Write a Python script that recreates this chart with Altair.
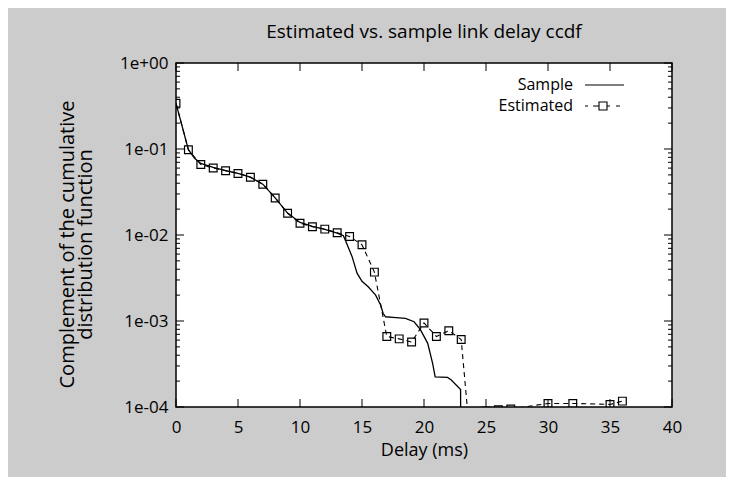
import altair as alt
import pandas as pd

# ---- data ----
sample_x = [0, 1, 1.5, 2, 3, 4, 5, 6, 7, 8, 9, 10, 11, 12, 13, 13.5, 13.7, 14.2,
            14.6, 15.0, 15.5, 16.1, 16.5, 16.7, 16.9, 17.5, 18.5, 19.2, 19.7, 20.3,
            20.7, 20.9, 21.9, 22.2, 22.95, 23.0]
sample_y = [0.34, 0.098, 0.078, 0.068, 0.061, 0.056, 0.052, 0.047, 0.039, 0.027,
            0.018, 0.014, 0.0126, 0.0116, 0.0105, 0.0098, 0.0084, 0.0056, 0.0036,
            0.0029, 0.0025, 0.0020, 0.00154, 0.00123, 0.00112, 0.0011, 0.00107,
            0.00098, 0.0008, 0.00055, 0.00032, 0.000224, 0.000221, 0.000206,
            0.00016, 0.000001]

est_x = [0, 1, 2, 3, 4, 5, 6, 7, 8, 9, 10, 11, 12, 13, 14, 15, 16, 17, 18, 19,
         20, 21, 22, 23, 24, 25, 26, 27, 30, 32, 35, 36]
est_y = [0.34, 0.098, 0.066, 0.060, 0.056, 0.052, 0.047, 0.039, 0.027, 0.0179,
         0.0137, 0.0125, 0.0117, 0.0106, 0.0096, 0.0077, 0.0037, 0.00066, 0.00062,
         0.00057, 0.00095, 0.00066, 0.00077, 0.00061, 0.000015, 0.00009,
         0.000093, 0.000095, 0.00011, 0.00011, 0.000107, 0.000117]

series_names = ["Sample", "Estimated"]
x_ticks = [0, 5, 10, 15, 20, 25, 30, 35, 40]
y_major = [1, 0.1, 0.01, 0.001, 0.0001]
y_minor = [m * 10.0 ** e for e in range(-4, 0) for m in range(2, 10)]

title_text = "Estimated vs. sample link delay ccdf"
x_title = "Delay (ms)"
y_title = ["Complement of the cumulative", "distribution function"]

# ---- tables ----
df_s = pd.DataFrame({"delay": sample_x, "ccdf": sample_y, "series": series_names[0]})
df_e = pd.DataFrame({"delay": est_x, "ccdf": est_y, "series": series_names[1]})
df_all = pd.concat([df_s, df_e], ignore_index=True)
df_xt = pd.DataFrame({"delay": x_ticks})
df_ymaj = pd.DataFrame({"ccdf": y_major})
df_ymin = pd.DataFrame({"ccdf": y_minor})

W, H = 496, 344
FONT = "Open Sans"

xs = alt.Scale(domain=[0, 40], nice=False, zero=False)
ys = alt.Scale(type="log", domain=[1e-4, 1], nice=False)

x_axis = alt.Axis(values=x_ticks, ticks=False, domain=False, grid=False,
                  labelFontSize=17, labelPadding=12, labelColor="black",
                  labelFont=FONT, labelFlush=False, labelOverlap=False,
                  title=x_title, titleFontSize=18,
                  titleFontWeight="normal", titleFont=FONT, titleColor="black",
                  titlePadding=6)
y_axis = alt.Axis(values=y_major, ticks=False, domain=False, grid=False,
                  labelFontSize=17, labelPadding=8, labelColor="black",
                  labelFont=FONT, labelFlush=False, labelOverlap=False,
                  labelExpr="datum.value >= 1 ? '1e+00' : '1e-0' + format(-log(datum.value)/LN10, '.0f')",
                  title=y_title, titleFontSize=20, titleFontWeight="normal",
                  titleFont=FONT, titleColor="black", titlePadding=24,
                  titleLineHeight=18, titleY=181)

X = alt.X("delay:Q", scale=xs, axis=x_axis)
Y = alt.Y("ccdf:Q", scale=ys, axis=y_axis)

sample_line = alt.Chart(df_s).mark_line(color="black", strokeWidth=1.3, clip=True).encode(
    x=X, y=Y)

est_line = alt.Chart(df_e).mark_line(color="black", strokeWidth=1.1,
                                     strokeDash=[5, 4], clip=True).encode(x=X, y=Y)

est_pts = alt.Chart(df_e).mark_point(shape="square", size=60, filled=False,
                                     color="black", strokeWidth=1.2, opacity=1,
                                     clip=True).encode(x=X, y=Y)

# legend (gnuplot style: label left, line sample right)
path_sample = "M-3.6,0H4.2"
path_est = "M-3.6,0H-3.0M-2.0,0H-0.8M-0.8,-0.8H0.8V0.8H-0.8ZM0.8,0H1.4M2.6,0H3.4"
legend_layer = alt.Chart(df_all).mark_point(filled=False, color="black", opacity=0,
                                            clip=True).encode(
    x=X, y=Y,
    shape=alt.Shape("series:N",
                    scale=alt.Scale(domain=series_names, range=[path_sample, path_est]),
                    legend=alt.Legend(title=None, orient="none", legendX=419, legendY=14,
                                      padding=0, labelAlign="right",
                                      labelOffset={"expr": "-38"},
                                      labelFontSize=16, labelFont=FONT, labelColor="black",
                                      symbolSize=100, symbolStrokeColor="black",
                                      symbolStrokeWidth=1.1, symbolFillColor="transparent",
                                      symbolOpacity=1, rowPadding=5, labelLimit=0)),
)

# inward ticks like gnuplot, on all four sides
def yrule(df, x0, x1):
    return alt.Chart(df).mark_rule(color="black", strokeWidth=1).encode(
        y=Y, x=alt.value(x0), x2=alt.value(x1))

def xrule(df, y0, y1):
    return alt.Chart(df).mark_rule(color="black", strokeWidth=1).encode(
        x=X, y=alt.value(y0), y2=alt.value(y1))

ticks = [
    yrule(df_ymaj, 0, 8), yrule(df_ymaj, W - 8, W),
    yrule(df_ymin, 0, 4), yrule(df_ymin, W - 4, W),
    xrule(df_xt, H, H - 8), xrule(df_xt, 0, 8),
]

chart = alt.layer(sample_line, est_line, est_pts, *ticks, legend_layer).properties(
    width=W, height=H,
    title=alt.TitleParams(text=title_text, fontSize=19, fontWeight="normal",
                          font=FONT, color="black", offset=12, anchor="middle"),
    padding={"left": 168, "top": 55, "right": 54, "bottom": 70},
    autosize=alt.AutoSizeParams(type="none"),
    background="#cccccc",
).configure_view(fill="white", stroke="black", strokeWidth=1.5)

chart.save("out.html", embed_options={"renderer": "svg", "actions": False})
